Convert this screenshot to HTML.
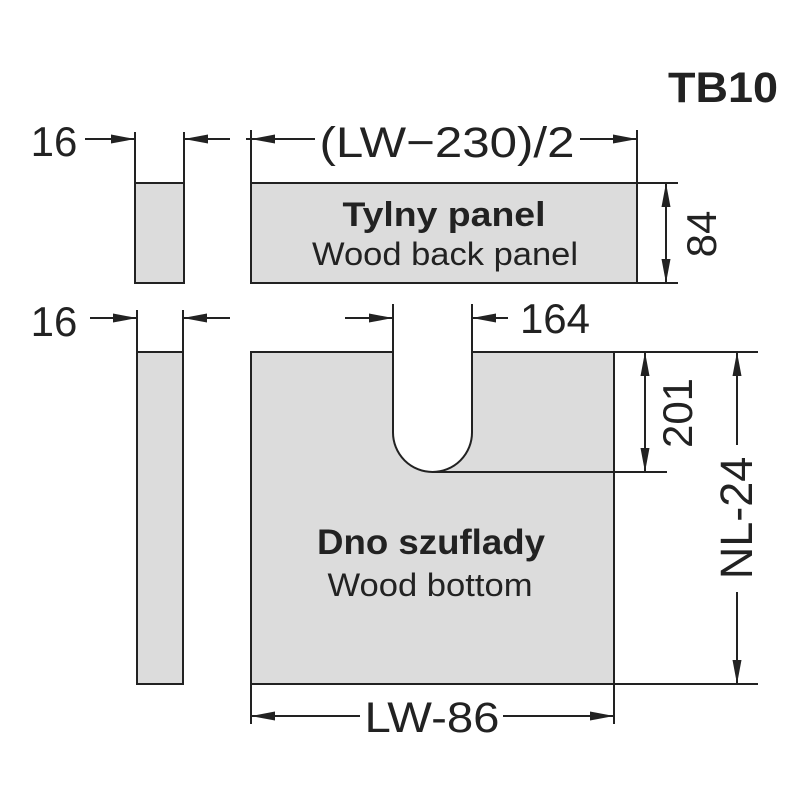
<!DOCTYPE html>
<html><head><meta charset="utf-8"><style>
html,body{margin:0;padding:0;background:#fff;width:800px;height:800px;overflow:hidden}
svg text{font-family:"Liberation Sans",sans-serif;fill:#222}
</style></head><body>
<svg width="800" height="800" viewBox="0 0 800 800" xmlns="http://www.w3.org/2000/svg">
<defs>
<marker id="a" viewBox="0 0 24 9" refX="24" refY="4.5" markerWidth="24" markerHeight="9" markerUnits="userSpaceOnUse" orient="auto"><path d="M0,0 L24,4.5 L0,9 Z" fill="#222"/></marker>
</defs>
<g stroke="#222" stroke-width="2" fill="none">
<rect x="135" y="183" width="49" height="100" fill="#dcdcdc"/>
<line x1="135" y1="132" x2="135" y2="183"/><line x1="184" y1="132" x2="184" y2="183"/>
<line x1="85" y1="139" x2="135" y2="139" marker-end="url(#a)"/>
<line x1="230" y1="139" x2="184" y2="139" marker-end="url(#a)"/>
<rect x="251" y="183" width="386" height="100" fill="#dcdcdc"/>
<line x1="251" y1="130" x2="251" y2="183"/><line x1="637" y1="130" x2="637" y2="183"/>
<line x1="315" y1="139" x2="251" y2="139" marker-end="url(#a)"/>
<line x1="580" y1="139" x2="637" y2="139" marker-end="url(#a)"/>
<line x1="246" y1="139" x2="251" y2="139"/>
<line x1="637" y1="183" x2="678" y2="183"/><line x1="637" y1="283" x2="678" y2="283"/>
<line x1="666" y1="233" x2="666" y2="183" marker-end="url(#a)"/>
<line x1="666" y1="233" x2="666" y2="283" marker-end="url(#a)"/>
<rect x="137" y="352" width="46" height="332" fill="#dcdcdc"/>
<line x1="137" y1="310" x2="137" y2="352"/><line x1="183" y1="310" x2="183" y2="352"/>
<line x1="90" y1="318" x2="137" y2="318" marker-end="url(#a)"/>
<line x1="230" y1="318" x2="183" y2="318" marker-end="url(#a)"/>
<path d="M251,352 H393 V432.5 A39.5,39.5 0 0 0 472,432.5 V352 H614 V684 H251 Z" fill="#dcdcdc"/>
<line x1="393" y1="304" x2="393" y2="352"/><line x1="472" y1="304" x2="472" y2="352"/>
<line x1="345" y1="318" x2="393" y2="318" marker-end="url(#a)"/>
<line x1="508" y1="318" x2="472" y2="318" marker-end="url(#a)"/>
<line x1="433" y1="472" x2="667" y2="472"/>
<line x1="614" y1="352" x2="758" y2="352"/>
<line x1="614" y1="684" x2="758" y2="684"/>
<line x1="645" y1="412" x2="645" y2="352" marker-end="url(#a)"/>
<line x1="645" y1="412" x2="645" y2="472" marker-end="url(#a)"/>
<line x1="737" y1="445" x2="737" y2="352" marker-end="url(#a)"/>
<line x1="737" y1="592" x2="737" y2="684" marker-end="url(#a)"/>
<line x1="251" y1="684" x2="251" y2="724"/><line x1="614" y1="684" x2="614" y2="724"/>
<line x1="360" y1="716" x2="251" y2="716" marker-end="url(#a)"/>
<line x1="503" y1="716" x2="614" y2="716" marker-end="url(#a)"/>
</g>
<text x="778" y="102" font-size="43" font-weight="bold" text-anchor="end" textLength="110" lengthAdjust="spacingAndGlyphs">TB10</text>
<text x="54" y="156" font-size="42" text-anchor="middle">16</text>
<text x="54" y="336" font-size="42" text-anchor="middle">16</text>
<text x="447" y="157" font-size="43" text-anchor="middle" textLength="255" lengthAdjust="spacingAndGlyphs">(LW−230)/2</text>
<text x="444" y="226" font-size="34" font-weight="bold" text-anchor="middle" textLength="203" lengthAdjust="spacingAndGlyphs">Tylny panel</text>
<text x="445" y="265" font-size="32" text-anchor="middle" textLength="266" lengthAdjust="spacingAndGlyphs">Wood back panel</text>
<text x="555" y="333" font-size="42" text-anchor="middle">164</text>
<text x="431" y="554" font-size="35" font-weight="bold" text-anchor="middle" textLength="228" lengthAdjust="spacingAndGlyphs">Dno szuflady</text>
<text x="430" y="596" font-size="32" text-anchor="middle" textLength="205" lengthAdjust="spacingAndGlyphs">Wood bottom</text>
<text x="432" y="732" font-size="43" text-anchor="middle" textLength="135" lengthAdjust="spacingAndGlyphs">LW-86</text>
<text transform="translate(716,234) rotate(-90)" font-size="42" text-anchor="middle">84</text>
<text transform="translate(692,413) rotate(-90)" font-size="42" text-anchor="middle">201</text>
<text transform="translate(752,518) rotate(-90)" font-size="45" text-anchor="middle">NL-24</text>
</svg>
</body></html>
